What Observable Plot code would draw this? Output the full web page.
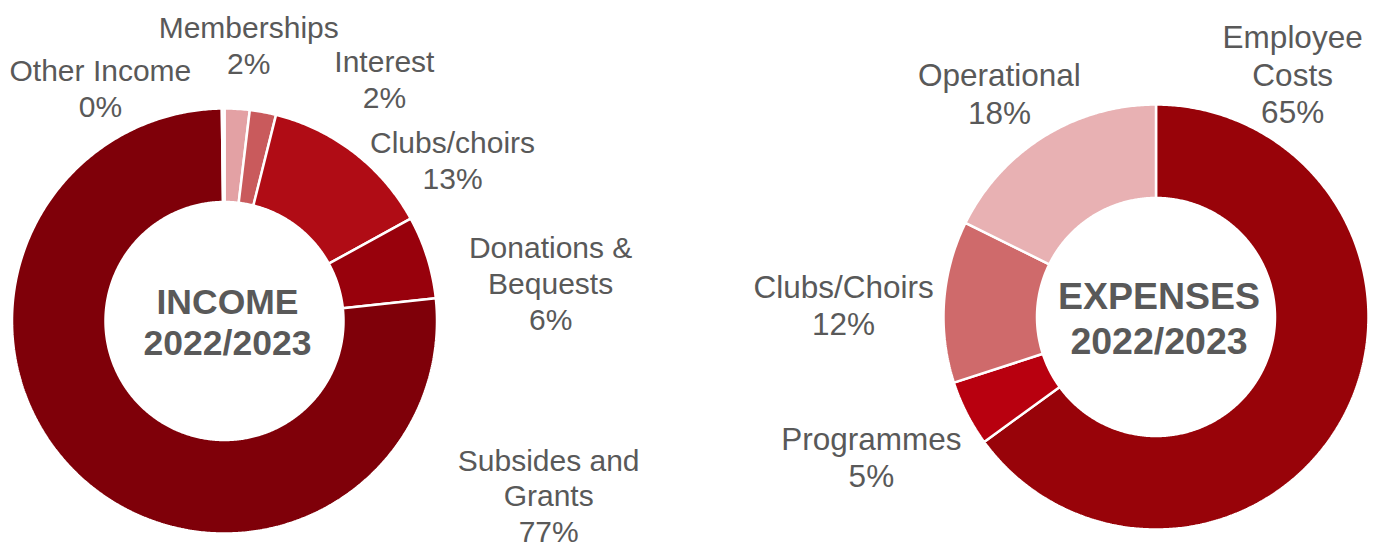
<!DOCTYPE html>
<html><head><meta charset="utf-8">
<script src="https://cdn.jsdelivr.net/npm/d3@7"></script>
<script src="https://cdn.jsdelivr.net/npm/@observablehq/plot@0.6"></script>
<style>body{margin:0;background:#fff;}</style>
</head><body><div id="chart"></div>
<script>
// ---- data ----
const incomeCategories = ["Memberships", "Interest", "Clubs/choirs", "Donations & Bequests", "Subsides and Grants", "Other Income"];
const incomeValues = [1.9, 2.0, 13.1, 6.3, 76.5, 0.2];
const incomeLabelText = ["Memberships", "Interest", "Clubs/choirs", "Donations &\nBequests", "Subsides and\nGrants", "Other Income"];
const incomeTitle = "INCOME\n2022/2023";

const expenseCategories = ["Employee Costs", "Programmes", "Clubs/Choirs", "Operational"];
const expenseValues = [65.0, 5.0, 12.3, 17.7];
const expenseLabelText = ["Employee\nCosts", "Programmes", "Clubs/Choirs", "Operational"];
const expenseTitle = "EXPENSES\n2022/2023";

// ---- styles ----
const incomeColors = ["#e3a1a4", "#c95a5c", "#b00c15", "#98010c", "#7f0009", "#f2d4d4"];
const expenseColors = ["#980309", "#b8000f", "#cf6a6b", "#e8b1b3"];
const textColor = "#595959";
const font = "Liberation Sans, Arial, sans-serif";

// ---- layout ----
const W = 1381, H = 547;
const R = 212.5, r = 119;
const incomeCenter = {cx: 224, cy: 320.5};
const expenseCenter = {cx: 1155.5, cy: 316.5};
// label placement: [angle in degrees clockwise from top, distance in outer radii]
const incomeLabelPolar = [[5.0, 1.310], [33.4, 1.370], [54.7, 1.318], [83.3, 1.549], [118.2, 1.735], [332.0, 1.247]];
const expenseLabelPolar = [[29.3, 1.317], [243.9, 1.495], [272.3, 1.475], [325.1, 1.291]];

function slices(categories, values, colors, c) {
  const arcs = d3.pie().sort(null).value(d => d)(values);
  const rows = [];
  arcs.forEach((a, i) => {
    const key = c.cx + "-" + categories[i];
    const n = Math.max(2, Math.ceil((a.endAngle - a.startAngle) / (Math.PI / 360)));
    const pts = [];
    for (let k = 0; k <= n; k++) {
      const t = a.startAngle + (a.endAngle - a.startAngle) * k / n;
      pts.push([c.cx + R * Math.sin(t), c.cy - R * Math.cos(t)]);
    }
    for (let k = n; k >= 0; k--) {
      const t = a.startAngle + (a.endAngle - a.startAngle) * k / n;
      pts.push([c.cx + r * Math.sin(t), c.cy - r * Math.cos(t)]);
    }
    pts.push(pts[0]);
    pts.forEach(p => rows.push({key, color: colors[i], x: p[0], y: p[1]}));
  });
  return rows;
}

function labels(texts, values, polar, c) {
  return texts.map((t, i) => {
    const a = polar[i][0] * Math.PI / 180, d = polar[i][1] * 212;
    return {text: t + "\n" + Math.round(values[i]) + "%", x: c.cx + d * Math.sin(a), y: c.cy - d * Math.cos(a)};
  });
}

const sliceRows = [
  ...slices(incomeCategories, incomeValues, incomeColors, incomeCenter),
  ...slices(expenseCategories, expenseValues, expenseColors, expenseCenter)
];
const incomeLabels = labels(incomeLabelText, incomeValues, incomeLabelPolar, incomeCenter);
const expenseLabels = labels(expenseLabelText, expenseValues, expenseLabelPolar, expenseCenter);

const chart = Plot.plot({
  width: W, height: H, margin: 0,
  style: {fontFamily: font, background: "#fff"},
  x: {domain: [0, W], axis: null},
  y: {domain: [0, H], reverse: true, axis: null},
  color: {type: "identity"},
  marks: [
    Plot.line(sliceRows, {x: "x", y: "y", z: "key", fill: "color", stroke: "white", strokeWidth: 2.5, curve: "linear", strokeLinejoin: "miter"}),
    Plot.text(incomeLabels, {x: "x", y: "y", text: "text", fontSize: 30, lineHeight: 1.19, fill: textColor, fontFamily: font}),
    Plot.text(expenseLabels, {x: "x", y: "y", text: "text", fontSize: 31.5, lineHeight: 1.2, fill: textColor, fontFamily: font}),
    Plot.text([incomeTitle], {x: () => incomeCenter.cx + 3, y: () => incomeCenter.cy, text: d => d, fontSize: 35.5, fontWeight: "bold", lineHeight: 1.16, fill: textColor, fontFamily: font}),
    Plot.text([expenseTitle], {x: () => expenseCenter.cx + 3, y: () => expenseCenter.cy, text: d => d, fontSize: 37.5, fontWeight: "bold", lineHeight: 1.2, fill: textColor, fontFamily: font})
  ]
});
document.getElementById("chart").appendChild(chart);
</script>
</body></html>
